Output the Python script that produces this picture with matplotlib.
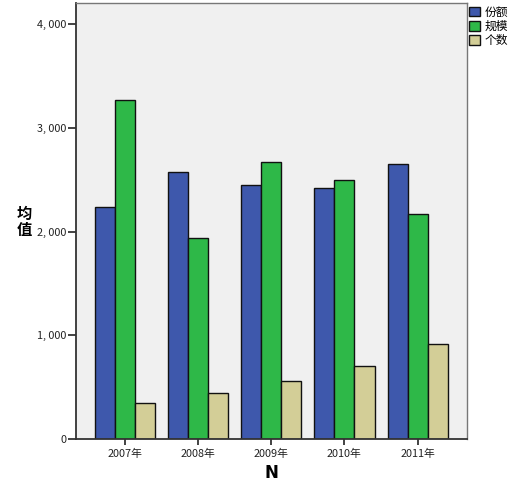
import matplotlib.pyplot as plt
import numpy as np

plt.rcParams['font.family'] = ['Noto Sans CJK SC', 'DejaVu Sans']

# 数据
years = ["2007年", "2008年", "2009年", "2010年", "2011年"]
fene = [2234, 2571, 2452, 2423, 2649]    # 份额
guimo = [3272, 1937, 2668, 2494, 2166]   # 规模
geshu = [347, 438, 557, 705, 911]        # 个数
series_names = ["份额", "规模", "个数"]
yticks = [0, 1000, 2000, 3000, 4000]

colors = ['#3e58ac', '#2eb848', '#d3ce97']

W, H = 524, 491
fig = plt.figure(figsize=(W / 100, H / 100), dpi=100)
ax = fig.add_axes([76 / W, (H - 438.7) / H, (466.7 - 76) / W, (438.7 - 3.3) / H])
ax.set_facecolor('#f0f0f0')

x = np.arange(len(years))
bw = 20 / 73
for i, (vals, c, name) in enumerate(zip([fene, guimo, geshu], colors, series_names)):
    ax.bar(x + (i - 1) * bw, vals, width=bw, color=c, edgecolor='#111111',
           linewidth=1.0, label=name, zorder=2)

ax.set_xlim(-49 / 73, len(years) - 1 + 49 / 73)
ax.set_ylim(0, 4203)
ax.set_xticks(x)
ax.set_xticklabels(years, fontsize=7.8, color='#222222')
ax.set_yticks(yticks)
ax.set_yticklabels([f"{v:,}".replace(",", ", ") for v in yticks], fontsize=7.8,
                   color='#222222')
ax.tick_params(axis='y', length=6, width=1.2, direction='out', pad=1, color='#222222')
ax.tick_params(axis='x', length=4, width=1.2, direction='out', pad=3, color='#222222')

for s in ['top', 'right']:
    ax.spines[s].set_color('#777777')
    ax.spines[s].set_linewidth(1.0)
for s in ['left', 'bottom']:
    ax.spines[s].set_color('#333333')
    ax.spines[s].set_linewidth(1.3)

fig.text(24 / W, 1 - 222 / H, "均\n值", fontsize=11, ha='center', va='center',
         linespacing=0.95, fontweight='bold')
fig.text(271 / W, 1 - 473 / H, "N", fontsize=12, ha='center', va='center',
         family='DejaVu Sans', fontweight='bold')

leg = ax.legend(loc='upper left', bbox_to_anchor=(1.0, 1.0), frameon=False,
                fontsize=8.5, handlelength=0.9, handleheight=0.9,
                handletextpad=0.4, labelspacing=0.1, borderaxespad=0.1,
                borderpad=0.1)

plt.savefig("out.png", dpi=100)
